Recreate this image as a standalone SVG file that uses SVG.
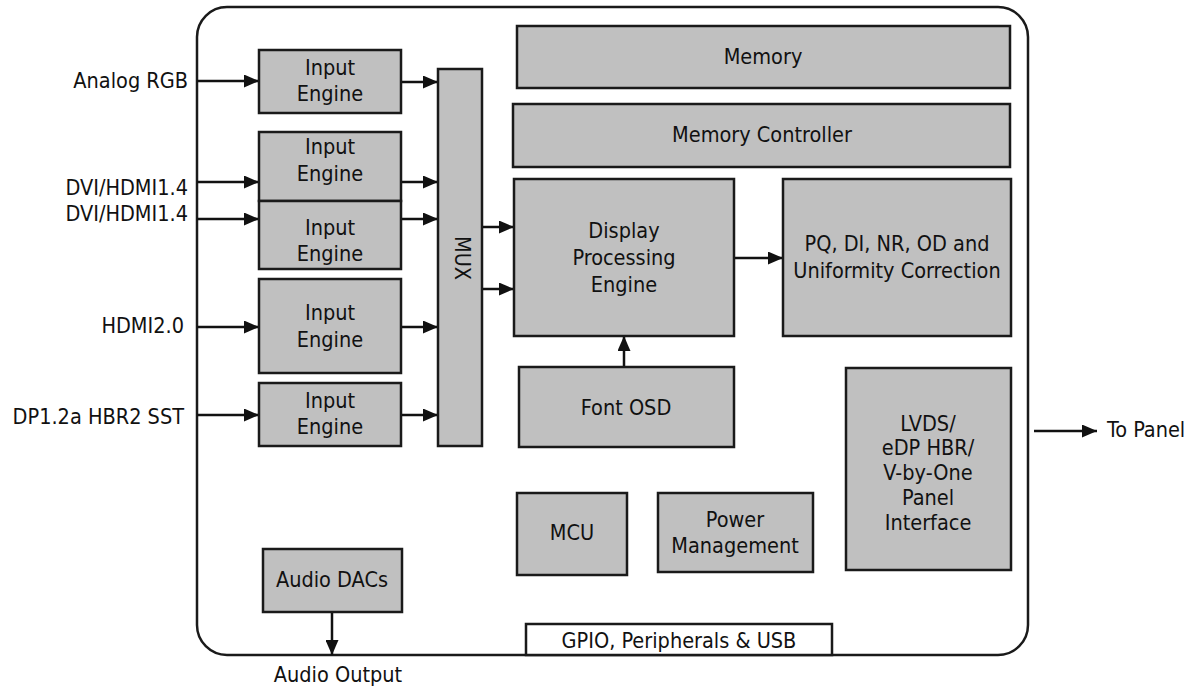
<svg xmlns="http://www.w3.org/2000/svg" width="1204" height="688" viewBox="0 0 1204 688">
<defs>
<style>
.box{fill:#c0c0c0;stroke:#1a1a1a;stroke-width:2.5}
.wbox{fill:#ffffff;stroke:#1a1a1a;stroke-width:2.5}
.outer{fill:#ffffff;stroke:#1a1a1a;stroke-width:2.5}
text{font-family:"DejaVu Sans Condensed","DejaVu Sans",sans-serif;font-stretch:condensed;font-size:21.5px;fill:#111}
.c{text-anchor:middle}
.e{text-anchor:end}
.ln{stroke:#111;stroke-width:2.5;fill:none;marker-end:url(#ah)}
</style>
<marker id="ah" markerUnits="userSpaceOnUse" markerWidth="15" markerHeight="13" refX="15" refY="6.5" orient="auto">
<path d="M0,0 L15,6.5 L0,13 z" fill="#111"/>
</marker>
</defs>
<rect id="chip" class="outer" x="197" y="7" width="831" height="648" rx="30"/>
<g id="connectors">
<line class="ln" x1="197" y1="81" x2="259" y2="81"/>
<line class="ln" x1="197" y1="182" x2="259" y2="182"/>
<line class="ln" x1="197" y1="219" x2="259" y2="219"/>
<line class="ln" x1="197" y1="327" x2="259" y2="327"/>
<line class="ln" x1="197" y1="415" x2="259" y2="415"/>
<line class="ln" x1="401" y1="82" x2="438" y2="82"/>
<line class="ln" x1="401" y1="182" x2="438" y2="182"/>
<line class="ln" x1="401" y1="219" x2="438" y2="219"/>
<line class="ln" x1="401" y1="327" x2="438" y2="327"/>
<line class="ln" x1="401" y1="415" x2="438" y2="415"/>
<line class="ln" x1="482" y1="227" x2="514" y2="227"/>
<line class="ln" x1="482" y1="289" x2="514" y2="289"/>
<line class="ln" x1="734" y1="258" x2="783" y2="258"/>
<line class="ln" x1="624" y1="367" x2="624" y2="336"/>
<line class="ln" x1="332" y1="612" x2="332" y2="655"/>
<line class="ln" x1="1034" y1="431" x2="1097" y2="431"/>
</g>
<g id="labels">
<text class="e" x="188" y="88">Analog RGB</text>
<text class="e" x="188" y="195">DVI/HDMI1.4</text>
<text class="e" x="188" y="221">DVI/HDMI1.4</text>
<text class="e" x="184" y="333">HDMI2.0</text>
<text class="e" x="184" y="424">DP1.2a HBR2 SST</text>
<text class="c" x="338" y="682">Audio Output</text>
<text x="1107" y="437">To Panel</text>
</g>
<g id="ie1"><rect class="box" x="259" y="50" width="142" height="63"/><text class="c" x="330" y="75">Input</text><text class="c" x="330" y="101">Engine</text></g>
<g id="ie2"><rect class="box" x="259" y="132" width="142" height="69"/><text class="c" x="330" y="154">Input</text><text class="c" x="330" y="181">Engine</text></g>
<g id="ie3"><rect class="box" x="259" y="201" width="142" height="68"/><text class="c" x="330" y="235">Input</text><text class="c" x="330" y="261">Engine</text></g>
<g id="ie4"><rect class="box" x="259" y="279" width="142" height="94"/><text class="c" x="330" y="320">Input</text><text class="c" x="330" y="347">Engine</text></g>
<g id="ie5"><rect class="box" x="259" y="383" width="142" height="63"/><text class="c" x="330" y="408">Input</text><text class="c" x="330" y="434">Engine</text></g>
<g id="mux"><rect class="box" x="438" y="69" width="44" height="377"/><text class="c" transform="translate(454.5,258) rotate(90)">MUX</text></g>
<g id="memory"><rect class="box" x="517" y="26" width="493" height="62"/><text class="c" x="763" y="64">Memory</text></g>
<g id="memctrl"><rect class="box" x="513" y="104" width="497" height="63"/><text class="c" x="762" y="142">Memory Controller</text></g>
<g id="dpe"><rect class="box" x="514" y="179" width="220" height="157"/><text class="c" x="624" y="238">Display</text><text class="c" x="624" y="265">Processing</text><text class="c" x="624" y="292">Engine</text></g>
<g id="pq"><rect class="box" x="783" y="179" width="228" height="157"/><text class="c" x="897" y="251">PQ, DI, NR, OD and</text><text class="c" x="897" y="278">Uniformity Correction</text></g>
<g id="osd"><rect class="box" x="519" y="367" width="215" height="80"/><text class="c" x="626" y="415">Font OSD</text></g>
<g id="lvds"><rect class="box" x="846" y="368" width="165" height="202"/><text class="c" x="928" y="431">LVDS/</text><text class="c" x="928" y="455">eDP HBR/</text><text class="c" x="928" y="480">V-by-One</text><text class="c" x="928" y="505">Panel</text><text class="c" x="928" y="530">Interface</text></g>
<g id="mcu"><rect class="box" x="517" y="493" width="110" height="82"/><text class="c" x="572" y="540">MCU</text></g>
<g id="pm"><rect class="box" x="658" y="493" width="155" height="79"/><text class="c" x="735" y="527">Power</text><text class="c" x="735" y="553">Management</text></g>
<g id="audio"><rect class="box" x="263" y="549" width="139" height="63"/><text class="c" x="332" y="587">Audio DACs</text></g>
<g id="gpio"><rect class="wbox" x="526" y="624" width="306" height="31"/><text class="c" x="679" y="648">GPIO, Peripherals &amp; USB</text></g>
</svg>
